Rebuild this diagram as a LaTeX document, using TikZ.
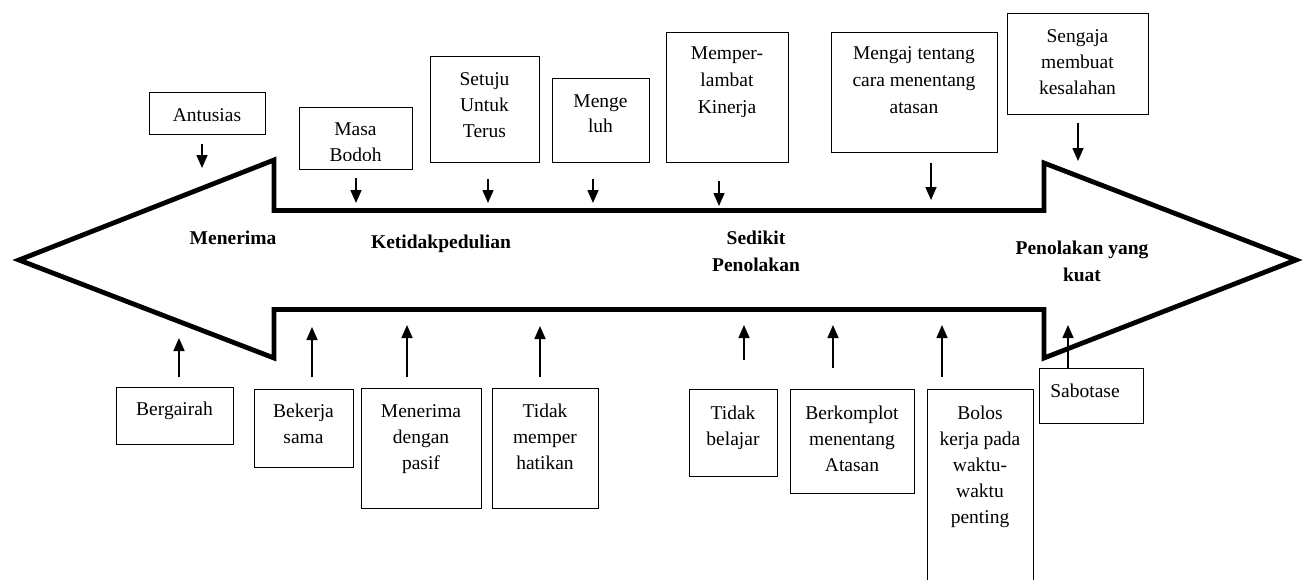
\documentclass[tikz,border=0pt]{standalone}
\usepackage{fontspec}
\setmainfont{Liberation Serif}
\usetikzlibrary{arrows.meta}
\begin{document}
\begin{tikzpicture}[x=1pt,y=-1pt,
  box/.style={draw, line width=1.3pt, inner sep=0pt, anchor=north west},
  txt/.style={align=center, anchor=base, inner sep=0pt, font=\fontsize{19.5}{26}\selectfont},
  lbl/.style={align=center, anchor=base, inner sep=0pt, font=\fontsize{19.5}{27}\selectfont\bfseries},
  conn/.style={line width=1.6pt, -{Triangle[length=13pt,width=11pt]}},
  bigarrow/.style={line width=4.8pt, line join=miter, miter limit=20}]
\useasboundingbox (0,0) rectangle (1312,579);
\clip (0,0) rectangle (1312,579);

% double arrow
\draw[bigarrow] (19,260) -- (274,160) -- (274,210.5) -- (1044,210.5) -- (1044,163)
  -- (1296,260) -- (1044,358) -- (1044,309.5) -- (274,309.5) -- (274,358) -- cycle;

% labels inside the arrow (anchor base = baseline of last line)
\node[lbl] (lMen) at (233,244) {Menerima};
\node[lbl] (lKet) at (441,248) {Ketidakpedulian};
\node[lbl] (lSed) at (756,271) {Sedikit\\Penolakan};
\node[lbl] (lPen) at (1082,281) {Penolakan yang\\kuat};

% top boxes
\node[box, minimum width=116pt, minimum height=42pt] (bAnt) at (149,92) {};
\node[box, minimum width=113pt, minimum height=62pt] (bMasa) at (299,107) {};
\node[box, minimum width=109pt, minimum height=106pt] (bSet) at (430,56) {};
\node[box, minimum width=97pt, minimum height=84pt] (bMen) at (552,78) {};
\node[box, minimum width=122pt, minimum height=130pt] (bMem) at (666,32) {};
\node[box, minimum width=166pt, minimum height=120pt] (bMgj) at (831,32) {};
\node[box, minimum width=141pt, minimum height=101pt] (bSeng) at (1007,13) {};

\node[txt] (xAnt) at (207,121) {Antusias};
\begin{scope}
\clip ([xshift=1pt]bMasa.north west) rectangle ([yshift=10pt,xshift=-1pt]bMasa.south east);
\node[txt] (xMasa) at (355.5,161) {Masa\\Bodoh};
\end{scope}
\node[txt] (xSet) at (484.5,137) {Setuju\\Untuk\\Terus};
\node[txt, font=\fontsize{19.5}{25}\selectfont] (xMen) at (600.5,132) {Menge\\luh};
\node[txt, font=\fontsize{19.5}{27}\selectfont] (xMem) at (727,113) {Memper-\\lambat\\Kinerja};
\node[txt, font=\fontsize{19.5}{27}\selectfont] (xMgj) at (914,113) {Mengaj tentang\\cara menentang\\atasan};
\node[txt] (xSeng) at (1077.5,94) {Sengaja\\membuat\\kesalahan};

% bottom boxes
\node[box, minimum width=117pt, minimum height=57pt] (bBer) at (116,387) {};
\node[box, minimum width=99pt, minimum height=78pt] (bBek) at (254,389) {};
\node[box, minimum width=120pt, minimum height=120pt] (bMP) at (361,388) {};
\node[box, minimum width=106pt, minimum height=120pt] (bTM) at (492,388) {};
\node[box, minimum width=88pt, minimum height=87pt] (bTB) at (689,389) {};
\node[box, minimum width=124pt, minimum height=104pt] (bBk) at (790,389) {};
\node[box, minimum width=106pt, minimum height=201pt] (bBol) at (927,389) {};
\node[box, minimum width=104pt, minimum height=55pt] (bSab) at (1039,368) {};

\node[txt] (xBer) at (174.5,415) {Bergairah};
\node[txt] (xBek) at (303.5,443) {Bekerja\\sama};
\node[txt] (xMP) at (421,469) {Menerima\\dengan\\pasif};
\node[txt] (xTM) at (545,469) {Tidak\\memper\\hatikan};
\node[txt] (xTB) at (733,445) {Tidak\\belajar};
\node[txt] (xBk) at (852,471) {Berkomplot\\menentang\\Atasan};
\node[txt] (xBol) at (980,523) {Bolos\\kerja pada\\waktu-\\waktu\\penting};
\node[txt] (xSab) at (1085,397) {Sabotase};

% arrow tips
\coordinate (tAnt) at (202,168);
\coordinate (tMasa) at (356,203);
\coordinate (tSet) at (488,203);
\coordinate (tMen) at (593,203);
\coordinate (tMem) at (719,206);
\coordinate (tMgj) at (931,200);
\coordinate (tSeng) at (1078,161);
\coordinate (tBer) at (179,338);
\coordinate (tBek) at (312,327);
\coordinate (tMP) at (407,325);
\coordinate (tTM) at (540,326);
\coordinate (tTB) at (744,325);
\coordinate (tBk) at (833,325);
\coordinate (tBol) at (942,325);
\coordinate (tSab) at (1068,325);

% connectors
\draw[conn] (tAnt |- bAnt.south) ++(0,9) -- (tAnt);
\draw[conn] (tMasa |- bMasa.south) ++(0,8) -- (tMasa);
\draw[conn] (tSet |- bSet.south) ++(0,16) -- (tSet);
\draw[conn] (tMen |- bMen.south) ++(0,16) -- (tMen);
\draw[conn] (tMem |- bMem.south) ++(0,18) -- (tMem);
\draw[conn] (tMgj |- bMgj.south) ++(0,10) -- (tMgj);
\draw[conn] (tSeng |- bSeng.south) ++(0,8) -- (tSeng);
\draw[conn] (tBer |- bBer.north) ++(0,-10) -- (tBer);
\draw[conn] (tBek |- bBek.north) ++(0,-12) -- (tBek);
\draw[conn] (tMP |- bMP.north) ++(0,-11) -- (tMP);
\draw[conn] (tTM |- bTM.north) ++(0,-11) -- (tTM);
\draw[conn] (tTB |- bTB.north) ++(0,-29) -- (tTB);
\draw[conn] (tBk |- bBk.north) ++(0,-21) -- (tBk);
\draw[conn] (tBol |- bBol.north) ++(0,-12) -- (tBol);
\draw[conn] (tSab |- bSab.north) -- (tSab);
\end{tikzpicture}
\end{document}
